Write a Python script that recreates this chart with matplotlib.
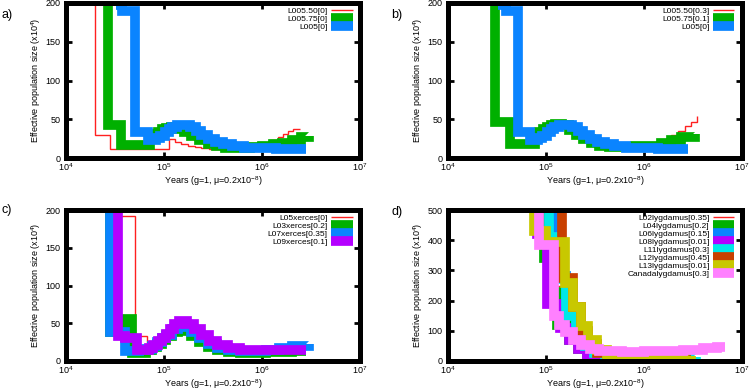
import matplotlib
matplotlib.use("Agg")
import matplotlib.pyplot as plt
import numpy as np

plt.rcParams['font.family'] = ['Liberation Sans', 'DejaVu Sans']
plt.rcParams['mathtext.fontset'] = 'custom'
plt.rcParams['mathtext.rm'] = 'Liberation Sans'
plt.rcParams['mathtext.it'] = 'Liberation Sans:italic'

# ---- panel a ----
a_labels = ['L005.50[0]', 'L005.75[0]', 'L005[0]']
a_red_x = [1.5e4, 1.98e4, 2.8e4, 1.12e5, 1.28e5, 1.5e5, 1.75e5, 2.05e5, 2.4e5, 2.9e5, 3.6e5, 4.6e5, 6e5, 8e5,
           1.05e6, 1.25e6, 1.45e6, 1.65e6, 1.85e6, 2.05e6, 2.45e6]
a_red_y = [400, 30, 12, 24, 21, 18, 16, 14, 12.5, 11.5, 11, 11, 12, 14, 18, 23, 27, 31, 35, 38, 38]
a_green_x = [2.0e4, 2.7e4, 3.6e4, 7.2e4, 7.8e4, 8.6e4, 9.5e4, 1.05e5, 1.18e5, 1.35e5, 1.6e5, 1.9e5, 2.3e5,
             2.8e5, 3.4e5, 4.2e5, 5.5e5, 7.5e5, 1.0e6, 1.3e6, 1.6e6, 2.0e6, 2.5e6, 3.0e6]
a_green_y = [400, 42, 17, 27, 31, 34, 37, 39, 40, 38, 34, 29, 23, 18, 15, 13, 13, 14, 16, 18, 20, 23, 27, 29]
a_blue_x = [3.2e4, 3.7e4, 5.05e4, 6.9e4, 8.2e4, 9.2e4, 1.02e5, 1.12e5, 1.22e5, 1.35e5, 1.85e5, 2.1e5, 2.4e5,
            2.8e5, 3.3e5, 4.0e5, 5.0e5, 6.5e5, 9e5, 1.4e6, 2.8e6]
a_blue_y = [197, 190, 34, 23, 26, 29, 33, 37, 40, 42, 40, 35, 30, 25, 21, 18, 15, 13.5, 12.5, 12, 12]

# ---- panel b ----
b_labels = ['L005.50[0.3]', 'L005.75[0.1]', 'L005[0]']
b_green_x = [2.0e4, 3.0e4, 4.3e4, 7.7e4, 8.5e4, 9.3e4, 1.02e5, 1.12e5, 1.25e5, 1.45e5, 1.7e5, 2.0e5, 2.4e5,
             2.9e5, 3.5e5, 4.4e5, 5.8e5, 8e5, 1.1e6, 1.5e6, 1.9e6, 2.4e6, 3.3e6]
b_green_y = [400, 46, 18, 28, 33, 37, 40, 43, 44, 42, 36, 30, 24, 19, 16, 14, 14, 15, 16, 19, 23, 27, 31]
b_red_x = [2.0e4, 3.0e4, 4.3e4, 7.7e4, 8.5e4, 9.3e4, 1.02e5, 1.12e5, 1.25e5, 1.45e5, 1.7e5, 2.0e5, 2.4e5,
           2.9e5, 3.5e5, 4.4e5, 5.8e5, 8e5, 1.1e6, 1.5e6, 1.9e6, 2.2e6, 2.6e6, 3.0e6, 3.5e6]
b_red_y = [400, 46, 18, 28, 33, 37, 40, 43, 44, 42, 36, 30, 24, 19, 16, 14, 14, 15, 16, 20, 30, 35, 41, 47, 54]
b_blue_x = [3.2e4, 3.9e4, 5.2e4, 6.9e4, 8.2e4, 9.2e4, 1.02e5, 1.12e5, 1.22e5, 1.35e5, 1.85e5, 2.1e5, 2.4e5,
            2.8e5, 3.3e5, 4.0e5, 5.0e5, 6.5e5, 9e5, 1.4e6, 2.8e6]
b_blue_y = [197, 190, 34, 23, 26, 29, 33, 37, 40, 42, 40, 35, 30, 25, 21, 18, 15, 13.5, 12.5, 12, 12]

# ---- panel c ----
c_labels = ['L05xerces[0]', 'L03xerces[0.2]', 'L07xerces[0.35]', 'L09xerces[0.1]']
c_red_x = [2.0e4, 3.45e4, 5.06e4, 6.7e4, 7.5e4, 8.5e4, 9.5e4, 1.07e5, 1.3e5, 1.45e5, 1.7e5, 2.0e5, 2.4e5,
           2.9e5, 3.5e5, 4.5e5, 6e5, 8e5, 1.2e6, 2.0e6, 2.7e6]
c_red_y = [400, 192, 33, 17, 20, 25, 30, 34, 44, 50, 47, 40, 32, 25, 20, 16, 14, 13, 13, 13, 13]
c_green_x = [2.0e4, 2.8e4, 3.8e4, 4.7e4, 5.5e4, 6.5e4, 7.5e4, 8.5e4, 9.5e4, 1.05e5, 1.2e5, 1.38e5, 1.6e5,
             1.9e5, 2.3e5, 2.8e5, 3.5e5, 4.5e5, 6e5, 8e5, 1.1e6, 2.0e6, 2.8e6]
c_green_y = [400, 38, 55, 10, 11, 14, 18, 23, 28, 33, 38, 42, 40, 33, 25, 18, 14, 12, 11, 11, 12, 13, 13]
c_blue_x = [2.0e4, 2.8e4, 4.0e4, 5.5e4, 6.5e4, 7.5e4, 8.5e4, 9.5e4, 1.05e5, 1.2e5, 1.38e5, 1.6e5, 1.9e5,
            2.3e5, 2.8e5, 3.5e5, 4.5e5, 6e5, 8e5, 1.1e6, 1.5e6, 2.0e6, 3.0e6]
c_blue_y = [400, 39, 13, 14, 16, 20, 25, 30, 35, 42, 47, 45, 38, 30, 22, 17, 14, 13, 13.5, 15, 17, 20, 23]
c_purple_x = [2.0e4, 3.4e4, 4.0e4, 5.3e4, 6.2e4, 7.0e4, 7.8e4, 8.6e4, 9.5e4, 1.05e5, 1.15e5, 1.27e5, 1.42e5,
              1.7e5, 2.0e5, 2.4e5, 2.9e5, 3.5e5, 4.5e5, 6e5, 8e5, 1.2e6, 2.0e6, 2.8e6]
c_purple_y = [400, 33, 31, 14, 15, 17, 21, 26, 31, 36, 42, 49, 53, 49, 42, 34, 27, 21, 17, 15, 14, 14, 14, 14]

# ---- panel d ----
d_labels = ['L02lygdamus[0.35]', 'L04lygdamus[0.2]', 'L06lygdamus[0.15]', 'L08lygdamus[0.01]',
            'L11lygdamus[0.3]', 'L12lygdamus[0.45]', 'L13lygdamus[0.01]', 'Canadalygdamus[0.3]']
d_red_x = [5e4, 9e4, 1.1e5, 1.4e5, 1.8e5, 2.2e5, 2.8e5, 3.5e5, 4.5e5, 7e5, 1.2e6, 2e6, 3.0e6]
d_red_y = [900, 360, 250, 130, 75, 40, 20, 8, 4, 3, 3, 3, 3]
d_green_x = [5e4, 9.5e4, 1.05e5, 1.3e5, 1.7e5, 2.1e5, 2.6e5, 3.3e5, 4.2e5, 6e5, 1e6, 2e6, 3.0e6]
d_green_y = [900, 340, 230, 120, 70, 40, 20, 8, 4, 3, 3, 3, 3]
d_blue_x = [5e4, 1.2e5, 1.35e5, 1.6e5, 2.0e5, 2.5e5, 3.1e5, 4e5, 6e5, 1e6, 2e6, 3.0e6]
d_blue_y = [900, 430, 280, 160, 90, 50, 25, 10, 5, 4, 4, 4]
d_purple_x = [5e4, 8.0e4, 1.03e5, 1.38e5, 1.7e5, 2.1e5, 2.6e5, 3.3e5, 4.2e5, 6e5, 1e6, 2e6, 3.0e6]
d_purple_y = [900, 420, 190, 110, 70, 40, 20, 10, 5, 3, 3, 3, 3]
d_cyan_x = [5e4, 1.07e5, 1.25e5, 1.6e5, 2.0e5, 2.5e5, 3.1e5, 4e5, 6e5, 1e6, 2e6, 3.4e6]
d_cyan_y = [900, 410, 270, 150, 90, 50, 25, 10, 5, 5, 8, 12]
d_brown_x = [5e4, 1.47e5, 1.9e5, 2.25e5, 2.7e5, 3.3e5, 4.2e5, 6e5, 1e6, 2e6, 3.0e6]
d_brown_y = [900, 275, 180, 100, 55, 25, 10, 5, 4, 4, 4]
d_olive_x = [5e4, 7.6e4, 1.0e5, 1.55e5, 1.9e5, 2.25e5, 2.7e5, 3.3e5, 4.2e5, 6e5, 1e6, 2e6, 3.0e6]
d_olive_y = [900, 430, 395, 258, 180, 115, 70, 35, 12, 6, 6, 10, 18]
d_pink_x = [5e4, 8.5e4, 1.2e5, 1.35e5, 1.55e5, 1.9e5, 2.3e5, 2.8e5, 3.5e5, 6e5, 1e6, 1.6e6, 2.5e6, 4e6, 5.5e6,
            6.7e6]
d_pink_y = [900, 385, 150, 120, 95, 70, 52, 40, 33, 31, 32, 34, 38, 44, 47, 45]

RED = '#ff2020'
GREEN = '#00b000'
BLUE = '#0a84ff'
PURPLE = '#b400ff'
CYAN = '#00e8e8'
BROWN = '#c84000'
OLIVE = '#c8c800'
PINK = '#ff80ff'
THICK = 7.0

fig = plt.figure(figsize=(7.49, 3.90), dpi=100)
W, H = 749.0, 390.0


def make_ax(x0, x1, ytop, ybot):
    return fig.add_axes([x0 / W, 1 - ybot / H, (x1 - x0) / W, (ybot - ytop) / H])


def style(ax, ymax, ystep, letter, lx, ly):
    ax.set_xscale('log')
    ax.set_xlim(1e4, 1e7)
    ax.set_ylim(0, ymax)
    ax.set_yticks(np.arange(0, ymax + 1, ystep))
    ax.set_xticks([1e4, 1e5, 1e6, 1e7])
    ax.minorticks_off()
    for s in ax.spines.values():
        s.set_linewidth(3.6)
    ax.tick_params(direction='in', length=4, width=2, top=True, right=True,
                   labelsize=6.5, pad=2.5)
    ax.tick_params(axis='y', pad=4)
    ax.set_xlabel('Years (g=1, μ=0.2x10$^{-8}$)', fontsize=6.5, labelpad=0.5)
    ax.set_ylabel('Effective population size (x10$^4$)', fontsize=6.5, labelpad=2)
    fig.text(lx / W, 1 - ly / H, letter, fontsize=9, va='center', ha='left')
    ax.legend(loc='upper right', bbox_to_anchor=(1, 1.022), frameon=False, markerfirst=False,
              fontsize=6, handlelength=2.6, handletextpad=0.4, labelspacing=0.02,
              borderaxespad=0.7, borderpad=0.2)


def step(ax, x, y, color, lw, label):
    ax.plot(x, y, drawstyle='steps-post', color=color, lw=lw, label=label,
            solid_joinstyle='miter', solid_capstyle='butt')


# a
ax = make_ax(66, 360, 3, 158)
step(ax, a_red_x, a_red_y, RED, 1.0, a_labels[0])
step(ax, a_green_x, a_green_y, GREEN, THICK, a_labels[1])
step(ax, a_blue_x, a_blue_y, BLUE, THICK, a_labels[2])
style(ax, 200, 50, 'a)', 2, 15)

# b
ax = make_ax(448, 742, 3, 158)
step(ax, b_red_x, b_red_y, RED, 1.0, b_labels[0])
step(ax, b_green_x, b_green_y, GREEN, THICK, b_labels[1])
step(ax, b_blue_x, b_blue_y, BLUE, THICK, b_labels[2])
style(ax, 200, 50, 'b)', 391, 15)

# c
ax = make_ax(66, 360, 210, 361)
step(ax, c_red_x, c_red_y, RED, 1.0, c_labels[0])
step(ax, c_green_x, c_green_y, GREEN, THICK, c_labels[1])
step(ax, c_blue_x, c_blue_y, BLUE, THICK, c_labels[2])
step(ax, c_purple_x, c_purple_y, PURPLE, THICK, c_labels[3])
style(ax, 200, 50, 'c)', 2, 210)

# d
ax = make_ax(448, 742, 210, 361)
step(ax, d_red_x, d_red_y, RED, 1.0, d_labels[0])
step(ax, d_green_x, d_green_y, GREEN, THICK, d_labels[1])
step(ax, d_blue_x, d_blue_y, BLUE, THICK, d_labels[2])
step(ax, d_purple_x, d_purple_y, PURPLE, THICK, d_labels[3])
step(ax, d_cyan_x, d_cyan_y, CYAN, THICK, d_labels[4])
step(ax, d_brown_x, d_brown_y, BROWN, THICK, d_labels[5])
step(ax, d_olive_x, d_olive_y, OLIVE, THICK, d_labels[6])
step(ax, d_pink_x, d_pink_y, PINK, THICK, d_labels[7])
style(ax, 500, 100, 'd)', 391, 212)

fig.savefig('out.png', dpi=100)
